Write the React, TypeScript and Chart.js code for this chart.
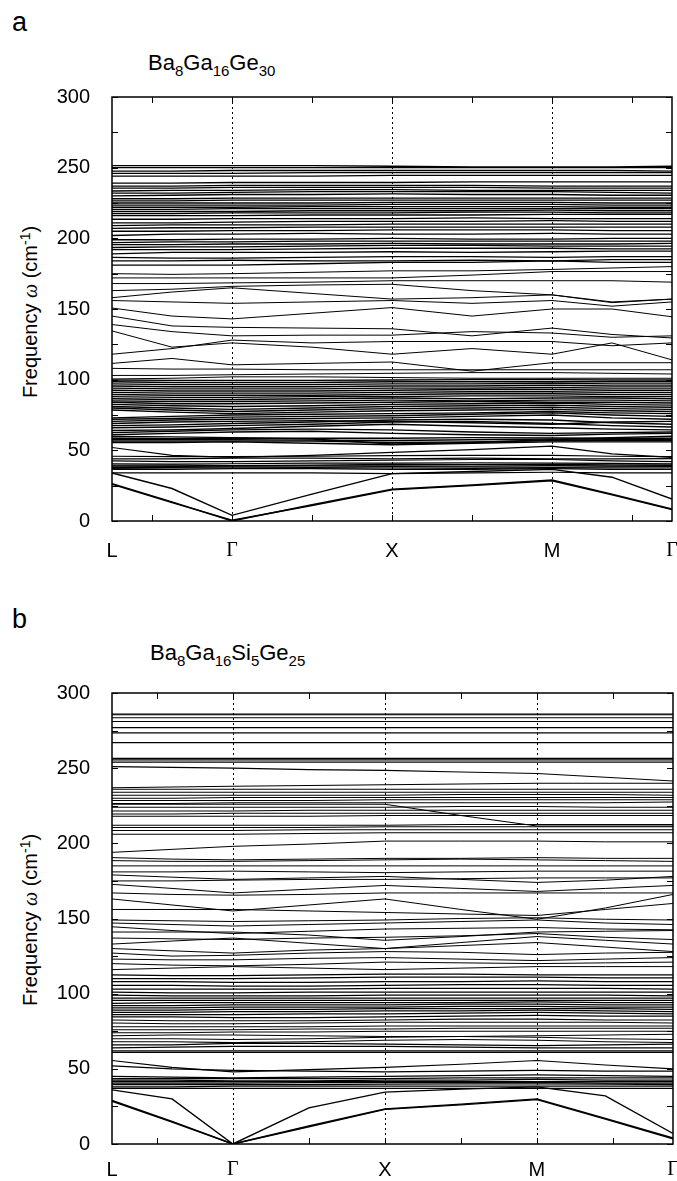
import React, { useEffect, useRef } from 'react';
import { Chart, registerables } from 'chart.js';

Chart.register(...registerables);

const SANS = '"Liberation Sans", Arial, Helvetica, sans-serif';
const SERIF = '"Liberation Serif", "Times New Roman", serif';

// ---- k-path (x axis) ----
const kLabels = ['L', 'Γ', 'X', 'M', 'Γ'];
const kPosA = [-1.5, 0, 2, 4, 5.5];
const kPosB = [-1.59, 0, 2, 4, 5.79];
const kMinorTicks = [-1, 0, 1, 2, 3, 4, 5];
const kSymmetry = [0, 2, 4];
// sampled k positions of every band (L, mid, Γ, mid, X, mid, M, mid, Γ)
const sampleA = [-1.5, -0.75, 0, 1, 2, 3, 4, 4.75, 5.5];
const sampleB = [-1.59, -0.8, 0, 1, 2, 3, 4, 4.9, 5.79];

// ---- frequency (y axis) ----
const freqTicks = [0, 50, 100, 150, 200, 250, 300];
const freqMinorTicks = [0, 25, 50, 75, 100, 125, 150, 175, 200, 225, 250, 275, 300];

// ================= Panel a : Ba8Ga16Ge30 =================
const acousticA = [
  [26.5, 13.5, 0, 11.5, 22.5, 25.5, 29, 19, 8.5],
  [26, 13, 0.5, 11, 22, 25, 28.5, 18.5, 8],
  [34, 23, 4, 19, 33.5, 35, 36.5, 31, 15.5],
];
const lowA = [
  [34, 34, 34, 34, 33.5, 34, 34.5, 34, 34],
  [36.5, 36.5, 37, 37, 36.5, 36.5, 37, 36.5, 36.5],
  [37.2, 37.5, 37.5, 37.5, 37.5, 37.2, 37.5, 37.5, 37.5],
  [38, 38, 38.2, 38, 38.5, 38.2, 38, 38.3, 38.5],
  [38.8, 38.6, 38.8, 39, 39, 38.8, 39.2, 39, 39.2],
  [39.6, 39.5, 39.2, 39.5, 40, 40, 40, 39.8, 39.8],
  [40.5, 40.2, 40.5, 41, 41, 41.2, 41, 40.8, 40.5],
  [42.5, 42, 42, 42.5, 43, 43.5, 43.5, 42.5, 42],
  [44, 44, 44.5, 44.5, 44, 44.5, 44, 44, 44.2],
  [45.8, 45.6, 45.5, 45.8, 46.2, 46.5, 46.5, 45.8, 45.5],
  [52, 46.5, 45, 46.5, 48.5, 50.5, 53, 47.5, 45],
];
const midA = [
  [55.5, 55.5, 56, 55, 54, 55, 56, 56, 56],
  [56.5, 56.5, 56.5, 56.5, 55.5, 56, 56.8, 57, 57],
  [57.5, 57.5, 57.5, 57.2, 57, 57.5, 58, 57.8, 57.5],
  [58.5, 58.2, 58.5, 58.5, 58.5, 59, 58.8, 58.5, 58.5],
  [59.8, 59.5, 59, 58, 54.5, 55.5, 57.5, 59, 60],
  [61, 62, 63, 63.5, 62, 61, 60.5, 61.5, 62],
  [62.5, 63.5, 64.5, 65, 64.5, 63, 62, 62.5, 63],
  [64, 64.5, 65.5, 67, 68.5, 67, 66, 65, 64.5],
  [66, 66.5, 67.5, 68.5, 70, 70.5, 69, 67.5, 66.5],
  [67.5, 68, 69, 70, 71.5, 72, 71.5, 69.5, 68.5],
  [69, 70, 70.5, 71, 70.5, 69.5, 68.5, 70, 70.5],
  [70.5, 71.5, 72, 72.5, 73, 74, 75, 73, 72],
  [72, 72.5, 73.5, 74, 74.5, 75.5, 76.5, 75, 74],
  [73, 74, 75, 75.5, 76, 76.5, 77.5, 76.5, 76],
  [78.5, 77, 76, 77, 78, 78.5, 79, 78, 77.5],
  [80, 78.5, 77.5, 78.5, 79.5, 80, 80.5, 79.5, 79],
  [81, 80, 79, 80, 81, 81.5, 82, 81, 80.5],
  [82.5, 81.5, 81, 81.5, 82.5, 83, 83.5, 82.5, 82],
  [84, 83, 83, 83.5, 84, 84.5, 84, 84, 83.5],
  [85, 84.5, 84.5, 85, 85.5, 85, 85.5, 85.5, 85],
  [86.5, 86, 86, 86.5, 87, 86.5, 87, 87, 86.5],
  [88, 87.5, 87.5, 88, 88, 88.5, 88.5, 88, 88],
  [89.5, 89, 89, 89, 89.5, 90, 90, 89.5, 89.5],
  [91, 90.5, 90.5, 90.5, 91, 91.5, 91.5, 91, 91],
  [92.5, 92, 92, 92, 92.5, 93, 93, 92.5, 92.5],
  [94, 93.5, 93.5, 93.5, 94, 94, 94.5, 94, 94],
  [95.5, 95, 95, 95, 95.5, 95.5, 96, 95.5, 95.5],
  [97, 96.5, 96.5, 96.5, 97, 97, 97.5, 97, 97],
  [98.5, 98, 98, 98, 98.5, 98.5, 98.5, 98.5, 98.5],
  [99.8, 99.5, 99.5, 99.5, 99.8, 100, 100, 99.8, 99.8],
];
const upperA = [
  [100.5, 101, 102, 102, 101.5, 101, 101, 101, 101],
  [103, 103, 103.5, 104, 104.5, 105, 105, 104.5, 104],
  [108, 107.5, 107.5, 107, 107, 107, 107, 107, 107],
  [111.5, 115, 110.5, 111.5, 112.5, 106, 112, 112, 112],
  [118, 122, 128, 126, 127, 127, 127, 124, 126],
  [134.5, 123, 126, 123, 118, 122, 118, 126, 114],
  [139, 134, 131, 131.5, 131.5, 134, 133, 130, 131],
  [145, 138, 137, 136.5, 136, 131, 136.5, 132, 129.5],
  [150.7, 145, 143, 147, 151, 145, 150, 150, 144.5],
  [156, 155, 154, 155, 156, 154, 156, 152, 155],
  [158, 162, 165, 161, 157, 158, 160, 155, 157],
  [163, 164, 166, 167, 167.5, 163, 160, 154.5, 157],
  [168, 168, 168.5, 169, 170, 170, 170, 170, 169],
  [172, 172, 172, 172, 172, 174, 176.5, 176.5, 176.5],
  [175, 174.5, 175, 176, 177, 177, 178, 179, 180],
];
const highA = [
  [181, 181, 181, 182, 183, 183, 184, 183, 183],
  [184, 184, 184.5, 184, 184, 184.5, 184, 185, 185],
  [186.5, 186, 186, 186.5, 187, 187, 186.5, 187, 187],
  [189, 190, 190, 190, 190.5, 190, 190.5, 191, 191],
  [192, 192, 192, 192.5, 193, 193, 193, 192.5, 192.5],
  [193.5, 194, 194, 194.5, 195, 195, 194.5, 194.5, 194.5],
  [195.5, 195.5, 196, 196, 196.5, 196, 196, 196, 196.5],
  [197, 197.5, 197.5, 198, 198, 198, 198, 198, 198],
  [199, 199, 199.5, 199.5, 200, 199.5, 199.5, 200, 200],
  [202, 203, 203, 203.5, 203, 203, 203.5, 203, 203],
  [205, 205, 205.5, 205.5, 206, 206, 206, 205.5, 205.5],
  [207, 207.5, 207.5, 208, 208, 208, 208, 208, 208],
  [209, 209.5, 209.5, 209.5, 210, 210, 210, 210, 210],
  [211, 211, 211.5, 212, 212, 212, 212.5, 212, 212],
  [213.5, 213.5, 214, 214, 214, 214.5, 214, 214, 214],
  [216, 216, 216, 216.5, 216.5, 216.5, 217, 217, 217],
  [217.5, 217.5, 218, 218, 218, 218.5, 218.5, 218, 218],
  [219, 219, 219, 219.5, 219.5, 219.5, 220, 219.5, 219.5],
  [220.5, 220.5, 221, 221, 221, 221, 221, 221, 221],
  [222, 222, 222, 222.5, 222.5, 222.5, 222.5, 222, 222],
  [223.5, 223.5, 223.5, 223.5, 224, 224, 224, 223.5, 223.5],
  [225, 225, 225, 225, 225.5, 225.5, 225.5, 225, 225],
  [226.5, 226.5, 227, 227, 227, 227, 227, 227, 227],
  [228, 228, 228.5, 228.5, 228.5, 228.5, 228.5, 228.5, 228.5],
  [230, 230.5, 231, 231, 231.5, 231, 231, 230.5, 230.5],
  [232, 232, 232.5, 233, 233, 233, 233, 232.5, 232],
  [233.5, 234, 234, 234.5, 234.5, 234, 234, 234, 234],
  [235.5, 235.5, 236, 236, 236, 236, 235.5, 235.5, 235.5],
  [237, 237, 237.5, 237.5, 237.5, 237.5, 237, 237, 237],
  [239, 239, 239.5, 239.5, 239.5, 240, 240, 240, 240],
  [244, 244, 244, 244, 244.5, 244.5, 244.5, 244.5, 244.5],
  [246, 246, 246, 246.5, 246.5, 246.5, 246.5, 246.5, 246.5],
  [247.5, 247.5, 248, 248, 248, 248, 248, 248, 247.5],
  [250, 250, 250, 250, 250, 250, 250, 250, 250],
  [251.5, 251.5, 251.5, 251.5, 251, 250.5, 250.5, 250.5, 251],
];

// ================= Panel b : Ba8Ga16Si5Ge25 =================
const acousticB = [
  [29, 15, 0, 12, 23.3, 26.5, 30, 17, 4],
  [28.5, 14.5, 0, 11.5, 23, 26, 29.5, 16.5, 3.5],
  [36, 30, 0, 24, 34.5, 36.5, 38, 32, 7],
];
const lowB = [
  [37, 37, 37, 37, 37, 37, 37, 37, 37],
  [38, 38, 38.5, 38.5, 38.5, 38.5, 38.5, 38.5, 38.5],
  [39.5, 39.5, 39.5, 39.5, 39.8, 40, 40, 39.8, 39.5],
  [40.5, 40.5, 40.5, 40.8, 41, 41, 41, 40.5, 40.5],
  [41.5, 41.5, 41.5, 41.5, 41.5, 41.5, 41.5, 41.5, 41.5],
  [42.5, 42.5, 42, 42, 42.5, 42.5, 43, 42.5, 42.5],
  [43.5, 43.5, 43.5, 43.5, 43.5, 44, 44, 44, 44],
  [45, 44.5, 44, 44.5, 45, 45.5, 46, 45.5, 45],
  [52, 50, 49, 48.5, 48, 48.5, 49, 48.5, 48.5],
  [55.5, 51, 48, 49.5, 51, 53, 55.5, 52.5, 50],
];
const midB = [
  [61, 61, 61, 61, 61, 61, 61, 61, 61],
  [62, 62, 62, 62, 62, 62, 62, 62, 62],
  [64, 64.5, 65, 65, 65, 64.5, 64, 64, 64],
  [66, 66, 67, 67, 66.5, 66, 65.5, 66, 66.5],
  [68, 68, 67.5, 68, 69, 69.5, 69, 68, 67.5],
  [70, 70, 69.5, 70, 71, 71.5, 71, 70, 69.5],
  [72, 72.5, 72.5, 72, 71.5, 71.5, 72, 72.5, 73],
  [74, 74, 74.5, 74.5, 75, 75, 75, 75, 75],
  [76, 76, 76, 76.5, 76.5, 77, 77, 77, 77],
  [78, 78, 78, 78, 78.5, 78.5, 78.5, 78.5, 78.5],
  [80.5, 80, 80, 80.5, 81, 81, 81, 81, 80.5],
  [82.5, 82, 82, 82, 82.5, 83, 83, 82.5, 82.5],
  [84.5, 84.5, 84, 84, 84.5, 85, 85.5, 85, 85],
  [86, 86, 86, 86.5, 86.5, 87, 87.5, 87, 86.5],
  [87.5, 87.5, 88, 88, 88.5, 88.5, 89, 88.5, 88],
  [89, 89, 89.5, 89.5, 90, 90, 90, 90, 89.5],
  [90.5, 90.5, 91, 91, 91, 91.5, 91.5, 91, 91],
  [92, 92, 92.5, 92.5, 92.5, 93, 93, 92.5, 92.5],
  [93.5, 94, 94, 94, 94, 94, 94.5, 94, 94],
  [95.5, 95.5, 95.5, 95.5, 95.5, 95.5, 95.5, 95.5, 95.5],
  [97, 97, 97, 97, 97, 97, 97, 97, 97],
  [99, 98.5, 98.5, 98.5, 99, 99, 99, 99, 98.5],
  [101, 100.5, 100.5, 101, 101, 101, 101, 101, 101],
  [103, 103, 103, 103, 103.5, 103.5, 103.5, 103.5, 103],
  [105.5, 105.5, 105, 105, 105.5, 106, 106, 105.5, 105.5],
  [108, 108, 107.5, 107.5, 108, 108, 108.5, 108, 108],
  [110, 110, 110, 110.5, 111, 111, 111, 110.5, 110.5],
  [112.5, 112, 112, 112.5, 113, 113, 112.5, 112.5, 112.5],
];
const upperB = [
  [116, 117, 118, 117, 116, 117, 118, 118, 118],
  [120, 119, 118.5, 119.5, 121, 120.5, 120, 120.5, 121],
  [123, 122.5, 122.5, 123.5, 124, 123, 122, 123, 124],
  [127, 125, 125.5, 127, 128, 127.5, 126, 127, 127.5],
  [130, 128.5, 127, 129, 130, 132, 134, 131, 128],
  [133, 135, 137, 133.5, 130, 134, 138, 135.5, 133],
  [137, 136.5, 136, 137, 137.5, 138.5, 140, 137.5, 136],
  [141, 141, 141, 139, 135.5, 138, 141, 141.5, 142],
  [144.5, 142, 140, 141.5, 143, 143.5, 144, 143, 142.5],
  [147, 146, 145, 146, 147, 148, 149, 147, 146],
  [149, 148.5, 148, 148.5, 149, 150, 150.5, 149.5, 149],
  [156, 156, 156, 155, 154, 153, 152, 156, 160],
  [163, 159, 155, 159, 163, 156, 149.5, 157, 166],
  [167, 166, 165.5, 166, 167, 167, 167, 167, 167],
  [172.7, 170, 167, 169.5, 172, 170, 168, 170, 172],
  [175, 175, 175.5, 176, 176, 176.5, 177, 177, 177],
  [179, 177.5, 176, 177, 178, 176, 174, 175.5, 178],
  [181, 181, 181.5, 181, 180.5, 181, 181.5, 181.5, 181.5],
  [185, 185, 185, 185, 185, 185, 185, 185, 185],
  [188.5, 188, 188, 188.5, 189, 189.5, 189, 188.5, 188],
  [190.5, 189.5, 189, 189.5, 190, 190, 190.5, 190, 190],
  [194, 196, 198, 199.5, 201.5, 201.5, 201.5, 201, 201],
];
const highB = [
  [206, 206, 206, 206.5, 207, 207, 207, 207, 207],
  [208.5, 208.5, 208.5, 209, 209, 209, 209, 209, 209],
  [210.5, 210.5, 210.5, 210.5, 211, 211, 211, 211, 211],
  [212, 212, 212, 212, 212, 212.5, 212.5, 212.5, 212.5],
  [218, 218, 218, 218, 218.5, 218.5, 218.5, 218.5, 218.5],
  [219.5, 219.5, 220, 220, 220, 220, 220, 220, 220],
  [221.5, 221.5, 221.5, 222, 222, 222, 222, 222, 222],
  [224, 224, 224, 224, 224, 224.5, 224.5, 224, 224],
  [226, 226, 226, 226, 226, 218.5, 211.5, 211.5, 211.5],
  [226.5, 226.5, 227, 227, 227, 227, 227, 227, 227.5],
  [228.5, 228.5, 228.5, 228.5, 229, 229, 229, 229, 229],
  [230, 230, 230.5, 230.5, 230.5, 230.5, 230.5, 230.5, 230.5],
  [232, 232, 232, 232, 232, 232.5, 232.5, 232.5, 232],
  [234, 234, 234, 234, 234, 234, 234, 234, 234],
  [236, 236, 236, 236, 236, 236, 236, 236, 236],
  [237, 237.5, 238, 238.5, 239, 239.5, 240, 240, 240],
  [251, 250.5, 250, 249, 248.5, 247.5, 246.5, 244, 241.5],
  [254, 254, 254, 254, 254, 254, 254, 254, 254],
  [255.5, 255.5, 255.5, 255.5, 255.5, 255.5, 255.5, 255.5, 255.5],
  [256.5, 256.5, 256.5, 256.5, 256.5, 256.5, 256.5, 256.5, 256.5],
  [267, 267, 267, 267, 267, 267, 267, 267, 267],
  [273.5, 273.5, 273.5, 273.5, 273.5, 273.5, 273.5, 273.5, 273.5],
  [277, 277, 277, 277, 277, 277, 277, 277, 277],
  [281, 281, 281, 281, 281, 281, 281, 281, 281],
  [283.5, 283.5, 283.5, 283.5, 283.5, 283.5, 283.5, 283.5, 283.5],
  [285.5, 285.5, 285.5, 285.5, 285.5, 285.5, 285.5, 285.5, 285.5],
  [286, 286, 286, 286, 286, 286, 286, 286, 286],
];

const framePlugin = {
  id: 'bandFrame',
  afterDatasetsDraw(chart: any) {
    const { ctx, chartArea: a, scales } = chart;
    const x = scales.x;
    const y = scales.y;
    ctx.save();
    ctx.strokeStyle = '#000';
    ctx.lineWidth = 1;
    ctx.setLineDash([2, 3]);
    for (const v of kSymmetry) {
      const px = Math.round(x.getPixelForValue(v)) + 0.5;
      ctx.beginPath();
      ctx.moveTo(px, a.top);
      ctx.lineTo(px, a.bottom);
      ctx.stroke();
    }
    ctx.setLineDash([]);
    const tl = 6;
    ctx.beginPath();
    for (const v of kMinorTicks) {
      const px = Math.round(x.getPixelForValue(v)) + 0.5;
      ctx.moveTo(px, a.bottom);
      ctx.lineTo(px, a.bottom - tl);
      ctx.moveTo(px, a.top);
      ctx.lineTo(px, a.top + tl);
    }
    for (const v of freqMinorTicks) {
      const py = Math.round(y.getPixelForValue(v)) + 0.5;
      ctx.moveTo(a.left, py);
      ctx.lineTo(a.left + tl, py);
      ctx.moveTo(a.right, py);
      ctx.lineTo(a.right - tl, py);
    }
    ctx.stroke();
    ctx.lineWidth = 1.5;
    ctx.strokeRect(a.left, a.top, a.right - a.left, a.bottom - a.top);
    ctx.restore();
  },
};

type Group = { bands: number[][]; width: number };

function BandPanel(props: {
  groups: Group[];
  sample: number[];
  kPos: number[];
  top: number;
  height: number;
  padTop: number;
  right: number;
  xAxisH: number;
  labelPad: number;
}) {
  const ref = useRef<HTMLCanvasElement>(null);
  useEffect(() => {
    const canvas = ref.current!;
    const datasets = props.groups.flatMap((g) =>
      g.bands.map((b) => ({
        data: b.map((v, i) => ({ x: props.sample[i], y: v })),
        borderColor: '#000',
        borderWidth: g.width,
        pointRadius: 0,
        tension: 0,
        fill: false,
      }))
    );
    const chart = new Chart(canvas, {
      type: 'line',
      data: { datasets },
      options: {
        animation: false,
        responsive: false,
        maintainAspectRatio: false,
        events: [],
        layout: { padding: { top: props.padTop, right: 677 - props.right, left: 0, bottom: 0 } },
        plugins: { legend: { display: false }, tooltip: { enabled: false } },
        scales: {
          x: {
            type: 'linear',
            min: props.kPos[0],
            max: props.kPos[props.kPos.length - 1],
            afterBuildTicks: (s: any) => {
              s.ticks = props.kPos.map((v) => ({ value: v }));
            },
            afterFit: (s: any) => {
              s.height = props.xAxisH;
              s.paddingLeft = 0;
              s.paddingRight = 0;
            },
            ticks: {
              autoSkip: false,
              maxRotation: 0,
              padding: props.labelPad,
              color: '#000',
              callback: (_v: any, i: number) => kLabels[i],
              font: (c: any) => ({
                family: kLabels[c.index] === 'Γ' ? SERIF : SANS,
                size: 20,
              }),
            },
            grid: { display: false, drawTicks: false },
            border: { display: false },
          },
          y: {
            type: 'linear',
            min: 0,
            max: 300,
            afterBuildTicks: (s: any) => {
              s.ticks = freqTicks.map((v) => ({ value: v }));
            },
            afterFit: (s: any) => {
              s.width = 112;
              s.paddingTop = 0;
              s.paddingBottom = 0;
            },
            ticks: {
              padding: 22,
              color: '#000',
              font: { family: SANS, size: 20 },
            },
            grid: { display: false, drawTicks: false },
            border: { display: false },
          },
        },
      },
      plugins: [framePlugin],
    } as any);
    return () => chart.destroy();
  }, []);
  return (
    <canvas
      ref={ref}
      width={677}
      height={props.height}
      style={{ position: 'absolute', left: 0, top: props.top, width: 677, height: props.height }}
    />
  );
}

const sub = (t: string) => (
  <span style={{ fontSize: 15, position: 'relative', top: 6 }}>{t}</span>
);

function YTitle({ cy }: { cy: number }) {
  return (
    <div
      style={{
        position: 'absolute',
        left: 31,
        top: cy,
        transform: 'translate(-50%, -50%) rotate(-90deg)',
        whiteSpace: 'nowrap',
        fontFamily: SANS,
        fontSize: 20,
        lineHeight: '22px',
        color: '#000',
      }}
    >
      Frequency <span style={{ fontFamily: SERIF, fontStyle: 'italic' }}>ω</span> (cm
      <span style={{ fontSize: 14, position: 'relative', top: -7 }}>-1</span>)
    </div>
  );
}

export default function App() {
  const letter: React.CSSProperties = {
    position: 'absolute',
    left: 12,
    fontFamily: SANS,
    fontSize: 27,
    lineHeight: '27px',
    color: '#000',
  };
  const title: React.CSSProperties = {
    position: 'absolute',
    fontFamily: SANS,
    fontSize: 22,
    lineHeight: '22px',
    color: '#000',
    whiteSpace: 'nowrap',
  };
  return (
    <div style={{ position: 'absolute', left: 0, top: 0, width: 677, height: 1181, background: '#fff', overflow: 'hidden' }}>
      <div style={{ ...letter, top: 9 }}>a</div>
      <div style={{ ...title, left: 148, top: 52 }}>
        Ba{sub('8')}Ga{sub('16')}Ge{sub('30')}
      </div>
      <YTitle cy={312} />
      <BandPanel
        groups={[
          { bands: acousticA, width: 1.4 },
          { bands: lowA, width: 1.2 },
          { bands: midA, width: 1.4 },
          { bands: upperA, width: 1 },
          { bands: highA, width: 1.3 },
        ]}
        sample={sampleA}
        kPos={kPosA}
        top={80}
        height={480}
        padTop={17}
        right={672}
        xAxisH={39}
        labelPad={18}
      />
      <div style={{ ...letter, top: 606 }}>b</div>
      <div style={{ ...title, left: 150, top: 642 }}>
        Ba{sub('8')}Ga{sub('16')}Si{sub('5')}Ge{sub('25')}
      </div>
      <YTitle cy={920} />
      <BandPanel
        groups={[
          { bands: acousticB, width: 1.4 },
          { bands: lowB, width: 1.1 },
          { bands: midB, width: 1.2 },
          { bands: upperB, width: 1 },
          { bands: highB, width: 1.1 },
        ]}
        sample={sampleB}
        kPos={kPosB}
        top={676}
        height={505}
        padTop={17}
        right={673}
        xAxisH={37}
        labelPad={14}
      />
    </div>
  );
}
